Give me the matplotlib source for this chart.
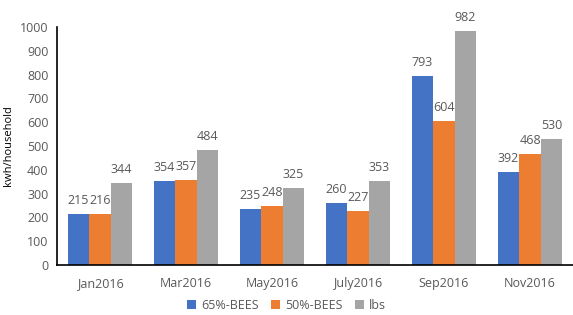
import matplotlib.pyplot as plt
import numpy as np

months = ['Jan2016', 'Mar2016', 'May2016', 'July2016', 'Sep2016', 'Nov2016']
bees65 = [215, 354, 235, 260, 793, 392]
bees50 = [216, 357, 248, 227, 604, 468]
lbs = [344, 484, 325, 353, 982, 530]

series = [('65%-BEES', bees65, '#4472C4'),
          ('50%-BEES', bees50, '#ED7D31'),
          ('lbs', lbs, '#A5A5A5')]

plt.rcParams['font.family'] = ['Open Sans', 'DejaVu Sans']
text_color = '#595959'

fig = plt.figure(figsize=(5.73, 3.15), dpi=100)
ax = fig.add_axes([0.0995, 0.159, 0.9005, 0.755])

x = np.arange(len(months))
width = 0.25
for i, (name, vals, color) in enumerate(series):
    pos = x + (i - 1) * width
    bars = ax.bar(pos, vals, width, color=color, label=name)
    for b, v in zip(bars, vals):
        ax.annotate(str(v), (b.get_x() + b.get_width() / 2, v),
                    xytext=(0, 5), textcoords='offset points',
                    ha='center', va='bottom', fontsize=9, color=text_color)

ax.set_xlim(-0.5, len(months) - 0.5)
ax.set_ylim(0, 1000)
ax.set_yticks(range(0, 1001, 100))
ax.set_xticks(x)
ax.set_xticklabels(months)
ax.tick_params(axis='both', length=0, labelsize=9, labelcolor=text_color)
ax.tick_params(axis='x', pad=9)
ax.tick_params(axis='y', pad=6)
for s in ['top', 'right']:
    ax.spines[s].set_visible(False)
for s in ['left', 'bottom']:
    ax.spines[s].set_color('black')
    ax.spines[s].set_linewidth(1.2)

ax.set_ylabel('kwh/household', fontsize=8, color='black')
ax.yaxis.set_label_coords(-0.083, 0.5)

fig.legend(loc='lower center', bbox_to_anchor=(0.5, -0.025), ncol=3, frameon=False,
           fontsize=9, labelcolor=text_color, handlelength=0.7, handleheight=0.7,
           handletextpad=0.4, columnspacing=1.0)

fig.savefig('out.png')
